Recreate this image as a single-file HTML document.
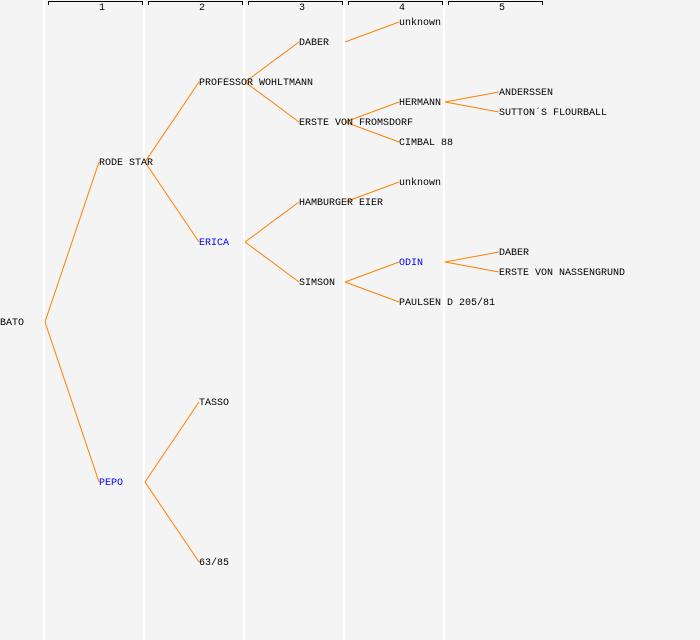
<!DOCTYPE html>
<html><head><meta charset="utf-8"><style>
html,body{margin:0;padding:0;background:#f4f4f4;}
svg{display:block;}
text{font-family:"Liberation Mono","DejaVu Sans Mono",monospace;font-size:10px;}
</style></head><body>
<svg width="700" height="640" viewBox="0 0 700 640">
<rect width="700" height="640" fill="#f4f4f4"/>
<g stroke="#ffffff" stroke-width="2">
<line x1="44" y1="0" x2="44" y2="640"/>
<line x1="144" y1="0" x2="144" y2="640"/>
<line x1="244" y1="0" x2="244" y2="640"/>
<line x1="344" y1="0" x2="344" y2="640"/>
<line x1="444" y1="0" x2="444" y2="640"/>
</g>
<g stroke="#000" stroke-width="1" fill="none">
<path d="M48.5 5V1.5H142.5V5"/>
<path d="M148.5 5V1.5H242.5V5"/>
<path d="M248.5 5V1.5H342.5V5"/>
<path d="M348.5 5V1.5H442.5V5"/>
<path d="M448.5 5V1.5H542.5V5"/>
</g>
<g text-anchor="middle" style="font-size:8px">
<text x="102" y="10">1</text><text x="202" y="10">2</text><text x="302" y="10">3</text><text x="402" y="10">4</text><text x="502" y="10">5</text>
</g>
<g stroke="#ff8000" stroke-width="1" fill="none">
<line x1="45" y1="322" x2="99" y2="162"/>
<line x1="45" y1="322" x2="99" y2="482"/>
<line x1="145" y1="162" x2="199" y2="82"/>
<line x1="145" y1="162" x2="199" y2="242"/>
<line x1="145" y1="482" x2="199" y2="402"/>
<line x1="145" y1="482" x2="199" y2="562"/>
<line x1="245" y1="82" x2="299" y2="42"/>
<line x1="245" y1="82" x2="299" y2="122"/>
<line x1="245" y1="242" x2="299" y2="202"/>
<line x1="245" y1="242" x2="299" y2="282"/>
<line x1="345" y1="42" x2="399" y2="22"/>
<line x1="345" y1="122" x2="399" y2="102"/>
<line x1="345" y1="122" x2="399" y2="142"/>
<line x1="345" y1="202" x2="399" y2="182"/>
<line x1="345" y1="282" x2="399" y2="262"/>
<line x1="345" y1="282" x2="399" y2="302"/>
<line x1="445" y1="102" x2="499" y2="92"/>
<line x1="445" y1="102" x2="499" y2="112"/>
<line x1="445" y1="262" x2="499" y2="252"/>
<line x1="445" y1="262" x2="499" y2="272"/>
</g>
<g fill="#000">
<text x="0" y="325">BATO</text>
<text x="99" y="165">RODE STAR</text>
<text x="99" y="485" fill="#0000ff">PEPO</text>
<text x="199" y="85">PROFESSOR WOHLTMANN</text>
<text x="199" y="245" fill="#0000ff">ERICA</text>
<text x="199" y="405">TASSO</text>
<text x="199" y="565">63/85</text>
<text x="299" y="45">DABER</text>
<text x="299" y="125">ERSTE VON FROMSDORF</text>
<text x="299" y="205">HAMBURGER EIER</text>
<text x="299" y="285">SIMSON</text>
<text x="399" y="25">unknown</text>
<text x="399" y="105">HERMANN</text>
<text x="399" y="145">CIMBAL 88</text>
<text x="399" y="185">unknown</text>
<text x="399" y="265" fill="#0000ff">ODIN</text>
<text x="399" y="305">PAULSEN D 205/81</text>
<text x="499" y="95">ANDERSSEN</text>
<text x="499" y="115">SUTTON´S FLOURBALL</text>
<text x="499" y="255">DABER</text>
<text x="499" y="275">ERSTE VON NASSENGRUND</text>
</g>
</svg>
</body></html>
